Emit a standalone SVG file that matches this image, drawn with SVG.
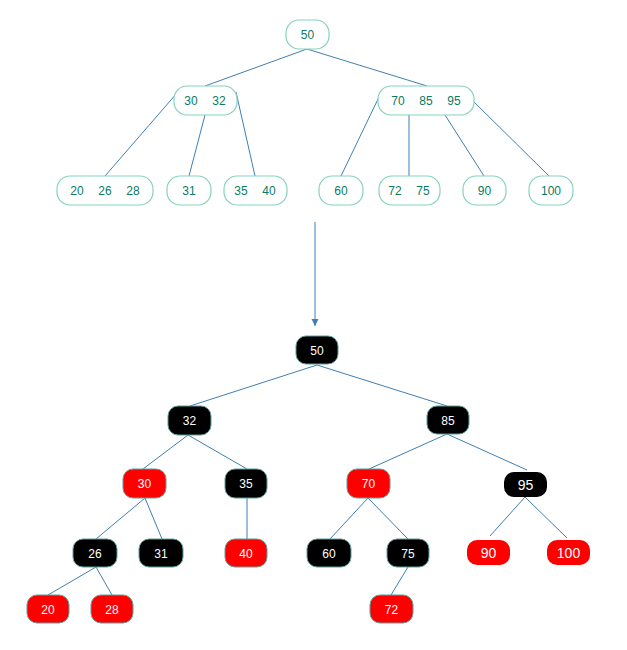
<svg xmlns="http://www.w3.org/2000/svg" width="627" height="650" viewBox="0 0 627 650">
<style>
.bt rect{fill:#fff;stroke:#86d3bb;stroke-width:1.2}
.bt text{font-family:"Liberation Sans",Arial,sans-serif;font-size:12px;fill:#0a7a62;text-anchor:middle}
.rb rect{stroke:#5d9f9a;stroke-width:1}
.rb text{font-family:"Liberation Sans",Arial,sans-serif;font-size:12px;fill:#fff;text-anchor:middle}
.blk rect{fill:#000}
.red rect{fill:#f00}
.big text{font-size:14px}
.big rect{stroke:none}
.edges line{stroke:#3f7fb3;stroke-width:1}
</style>
<defs>
<marker id="ah" markerWidth="8" markerHeight="8" refX="7" refY="4" orient="auto" markerUnits="userSpaceOnUse">
<path d="M0,0.5 L7,4 L0,7.5 Z" fill="#3f7fb3"/>
</marker>
</defs>
<g class="edges" id="connectors">
<line x1="307" y1="49" x2="205" y2="86"/>
<line x1="307" y1="49" x2="427" y2="86"/>
<line x1="177" y1="93" x2="105" y2="176"/>
<line x1="205" y1="115" x2="189" y2="176"/>
<line x1="236" y1="92" x2="255" y2="176"/>
<line x1="379" y1="97" x2="341" y2="176"/>
<line x1="409" y1="115" x2="409" y2="176"/>
<line x1="445" y1="115" x2="484" y2="176"/>
<line x1="472" y1="100" x2="549" y2="176"/>
<line x1="315" y1="222" x2="315" y2="326" marker-end="url(#ah)"/>
<line x1="317" y1="365" x2="190" y2="406"/>
<line x1="317" y1="365" x2="447" y2="406"/>
<line x1="188" y1="435" x2="143" y2="469"/>
<line x1="188" y1="435" x2="247" y2="469"/>
<line x1="447" y1="434" x2="369" y2="469"/>
<line x1="447" y1="434" x2="527" y2="470"/>
<line x1="145" y1="498" x2="96" y2="539"/>
<line x1="145" y1="498" x2="162" y2="539"/>
<line x1="247" y1="498" x2="247" y2="539"/>
<line x1="368" y1="498" x2="330" y2="539"/>
<line x1="368" y1="498" x2="408" y2="539"/>
<line x1="525" y1="497" x2="490" y2="536"/>
<line x1="525" y1="497" x2="567" y2="538"/>
<line x1="96" y1="567" x2="48" y2="595"/>
<line x1="96" y1="567" x2="112" y2="595"/>
<line x1="408" y1="567" x2="391" y2="595"/>
</g>
<g class="bt" id="b50"><rect x="286" y="20" width="43" height="29" rx="13"/><text x="307.5" y="39">50</text></g>
<g class="bt" id="b30_32"><rect x="174" y="86" width="63" height="29" rx="13"/><text x="191" y="105">30</text><text x="219" y="105">32</text></g>
<g class="bt" id="b70_85_95"><rect x="378" y="86" width="96" height="29" rx="13"/><text x="398" y="105">70</text><text x="426" y="105">85</text><text x="454" y="105">95</text></g>
<g class="bt" id="b20_26_28"><rect x="57" y="176" width="96" height="29" rx="13"/><text x="77" y="195">20</text><text x="105" y="195">26</text><text x="133" y="195">28</text></g>
<g class="bt" id="b31"><rect x="167" y="176" width="44" height="29" rx="13"/><text x="189" y="195">31</text></g>
<g class="bt" id="b35_40"><rect x="224" y="176" width="63" height="29" rx="13"/><text x="241" y="195">35</text><text x="269" y="195">40</text></g>
<g class="bt" id="b60"><rect x="319" y="176" width="44" height="29" rx="13"/><text x="341" y="195">60</text></g>
<g class="bt" id="b72_75"><rect x="379" y="176" width="61" height="29" rx="13"/><text x="395" y="195">72</text><text x="423" y="195">75</text></g>
<g class="bt" id="b90"><rect x="463" y="176" width="43" height="29" rx="13"/><text x="484.5" y="195">90</text></g>
<g class="bt" id="b100"><rect x="529" y="176" width="44" height="29" rx="13"/><text x="551" y="195">100</text></g>

<g class="rb blk" id="r50"><rect x="296" y="336" width="42" height="28" rx="10"/><text x="317" y="354.5">50</text></g>
<g class="rb blk" id="r32"><rect x="168" y="406" width="43" height="29" rx="10"/><text x="189.5" y="424.5">32</text></g>
<g class="rb blk" id="r85"><rect x="427" y="406" width="42" height="28" rx="10"/><text x="448" y="424.5">85</text></g>
<g class="rb red" id="r30"><rect x="123" y="469" width="43" height="29" rx="10"/><text x="144.5" y="488">30</text></g>
<g class="rb blk" id="r35"><rect x="225" y="469" width="42" height="29" rx="10"/><text x="246" y="488">35</text></g>
<g class="rb red" id="r70"><rect x="347" y="469" width="43" height="29" rx="10"/><text x="368.5" y="488">70</text></g>
<g class="rb blk big" id="r95"><rect x="504" y="472" width="43" height="25" rx="10"/><text x="525.5" y="489.5">95</text></g>
<g class="rb blk" id="r26"><rect x="73" y="539" width="44" height="28" rx="10"/><text x="95" y="557.5">26</text></g>
<g class="rb blk" id="r31"><rect x="139" y="539" width="44" height="28" rx="10"/><text x="161" y="557.5">31</text></g>
<g class="rb red" id="r40"><rect x="225" y="539" width="42" height="28" rx="10"/><text x="246" y="557.5">40</text></g>
<g class="rb blk" id="r60"><rect x="307" y="539" width="44" height="28" rx="10"/><text x="329" y="557.5">60</text></g>
<g class="rb blk" id="r75"><rect x="387" y="539" width="42" height="28" rx="10"/><text x="408" y="557.5">75</text></g>
<g class="rb red big" id="r90"><rect x="467" y="540" width="43" height="25" rx="10"/><text x="488.5" y="557.5">90</text></g>
<g class="rb red big" id="r100"><rect x="547" y="540" width="43" height="25" rx="10"/><text x="568.5" y="557.5">100</text></g>
<g class="rb red" id="r20"><rect x="27" y="595" width="42" height="28" rx="10"/><text x="48" y="613.5">20</text></g>
<g class="rb red" id="r28"><rect x="91" y="595" width="42" height="28" rx="10"/><text x="112" y="613.5">28</text></g>
<g class="rb red" id="r72"><rect x="370" y="595" width="43" height="28" rx="10"/><text x="391.5" y="613.5">72</text></g>
</svg>
